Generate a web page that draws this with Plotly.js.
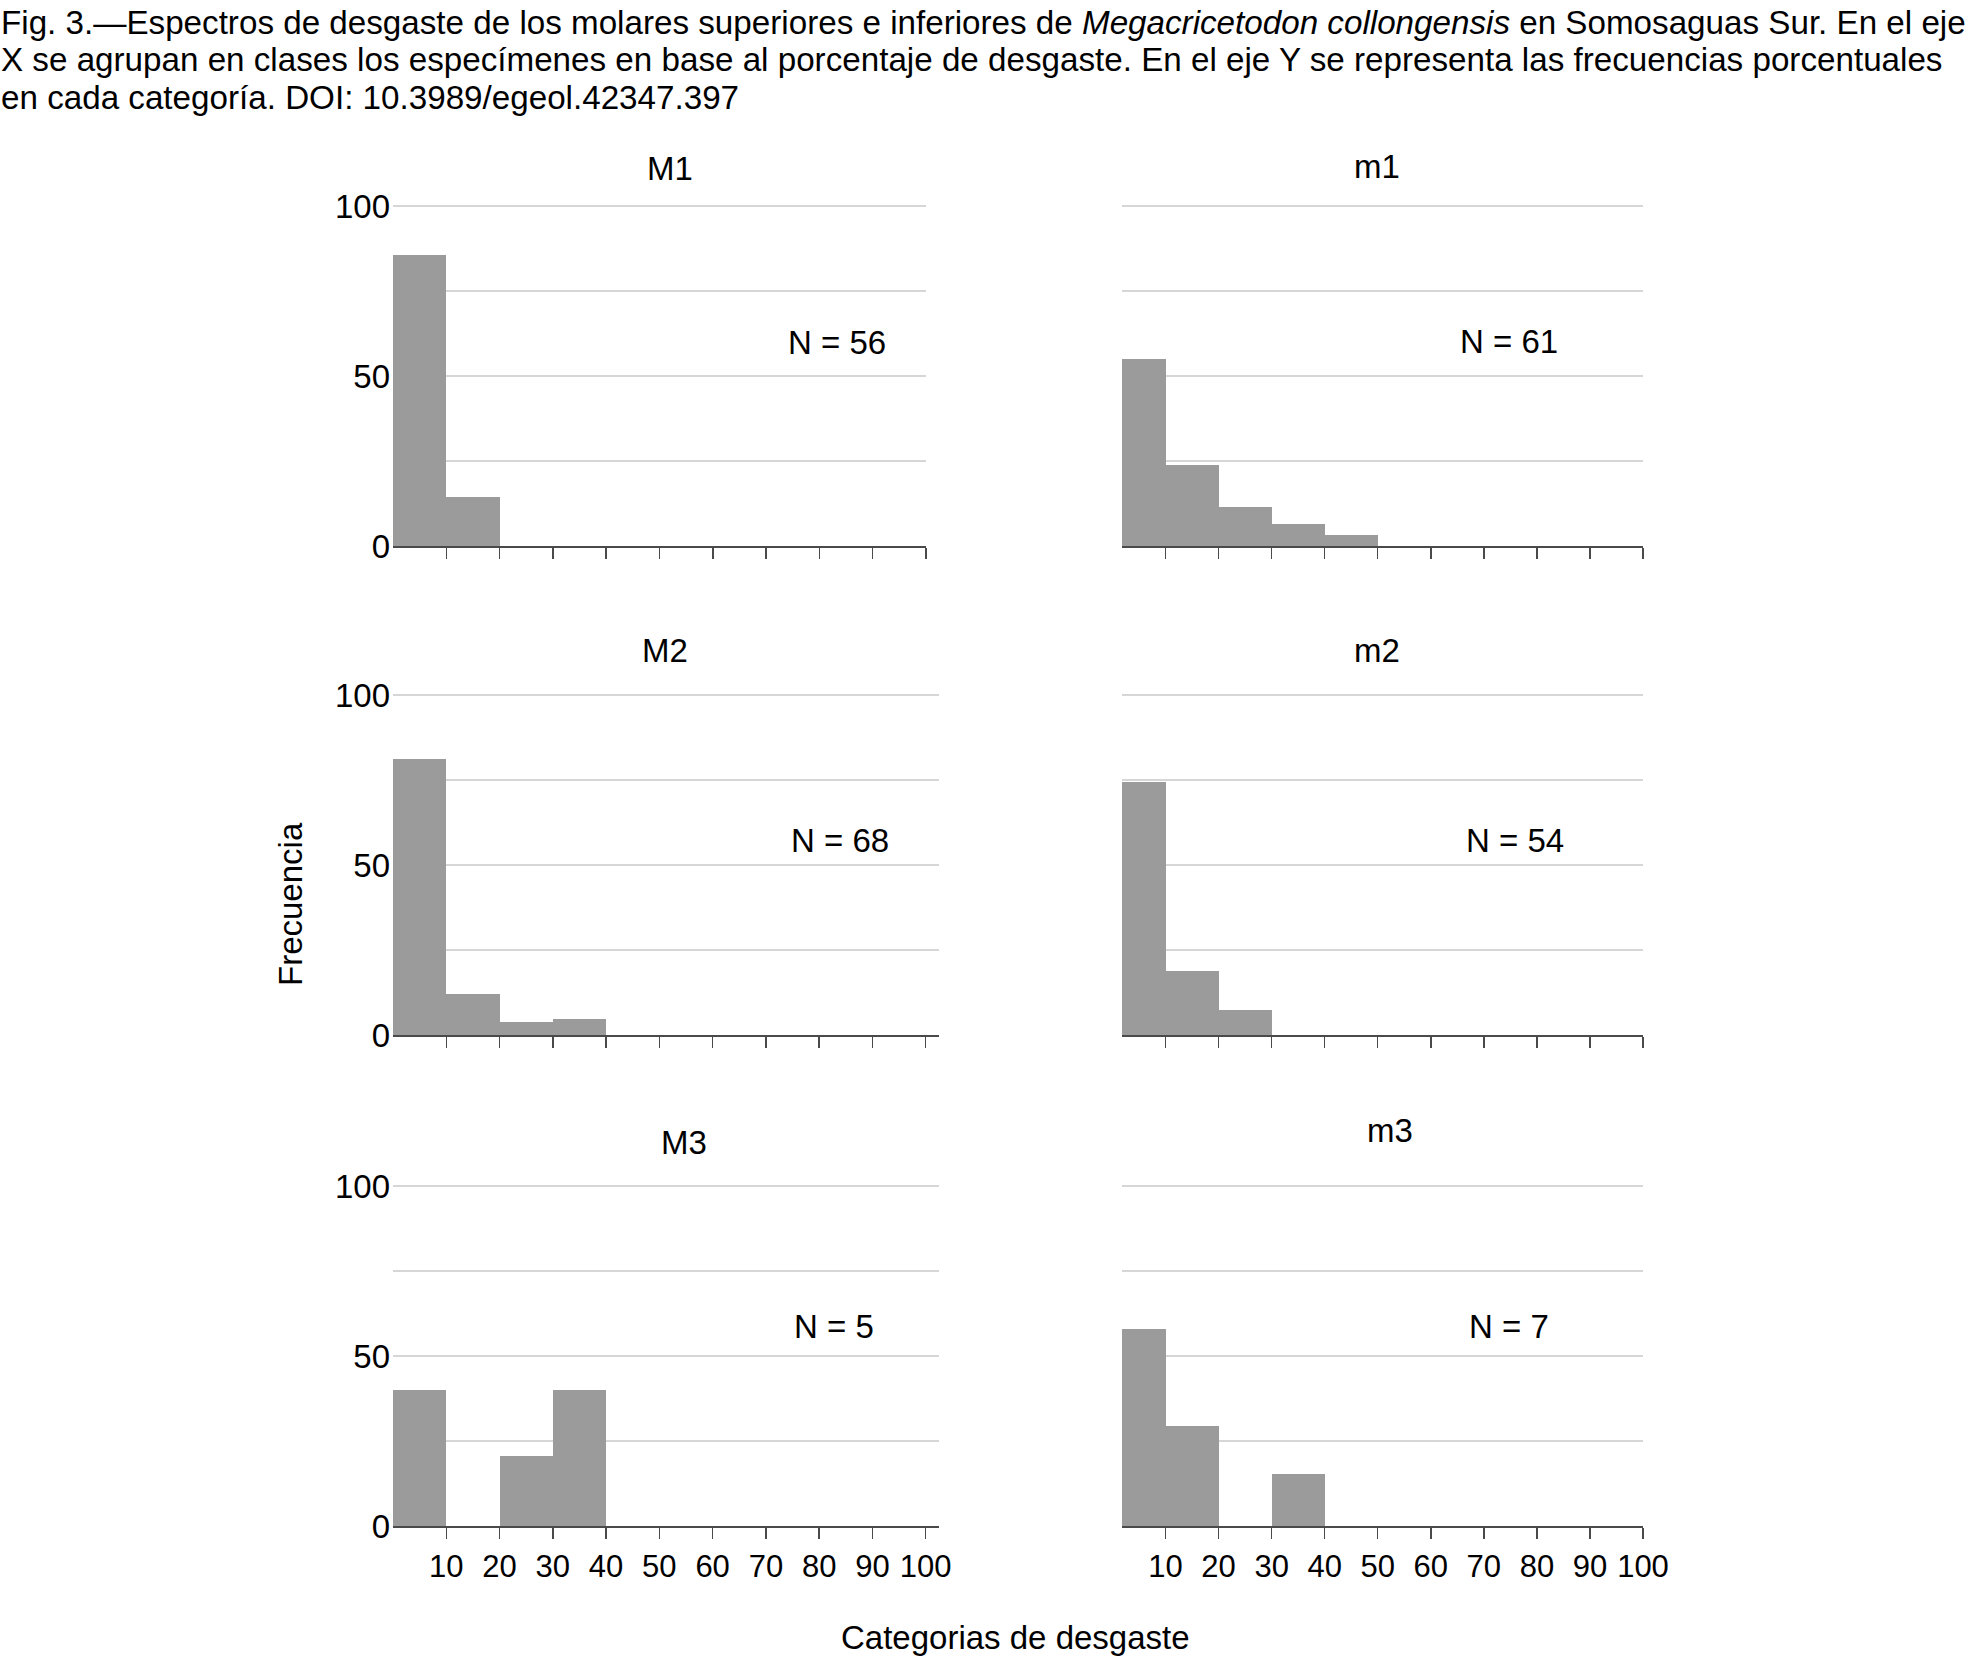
<!DOCTYPE html>
<html>
<head>
<meta charset="utf-8">
<script src="https://cdn.plot.ly/plotly-3.0.1.min.js"></script>
<style>
  html, body { margin: 0; padding: 0; background: #fff; }
</style>
</head>
<body>
<div id="chart" style="width:1967px;height:1657px;"></div>
<script>
/***********
  DATA
************/

// Wear classes (bin centres, 10 % wide each) and x tick labels
const binCenters = [5, 15, 25, 35, 45, 55, 65, 75, 85, 95];
const xTickVals = [10, 20, 30, 40, 50, 60, 70, 80, 90, 100];

// Panels: upper molars (M) on the left, lower molars (m) on the right
const panelNames = ['M1', 'm1', 'M2', 'm2', 'M3', 'm3'];
const sampleSizes = [56, 61, 68, 54, 5, 7];

// Percentage frequency per wear class
const freqM1 = [85.7, 14.3, 0, 0, 0, 0, 0, 0, 0, 0];
const freqm1 = [54.9, 23.9, 11.6, 6.6, 3.2, 0, 0, 0, 0, 0];
const freqM2 = [81.2, 12.0, 3.8, 4.7, 0, 0, 0, 0, 0, 0];
const freqm2 = [74.5, 18.7, 7.4, 0, 0, 0, 0, 0, 0, 0];
const freqM3 = [40, 0, 20.5, 40, 0, 0, 0, 0, 0, 0];
const freqm3 = [57.8, 29.3, 0, 15.4, 0, 0, 0, 0, 0, 0];

const panelFreqs = [freqM1, freqm1, freqM2, freqm2, freqM3, freqm3];

/***********
  LAYOUT HELPERS
************/

const W = 1967, H = 1657;
const fx = p => p / W;
const fy = p => 1 - p / H;

const FONT = '"Liberation Sans", Arial, Helvetica, sans-serif';
const BAR_COLOR = '#9b9b9b';
const AXIS_COLOR = '#4a4a4a';
const GRID_COLOR = '#d6d6d6';

// y range a hair above 100 so the top grid line is still drawn
const Y_TOP = 100.5;
const PX_PER_PCT = 3.4;

// Plot boxes in pixels: [left, right], bottom (zero line), x range
const frames = [
  { x: [393, 926],   bottom: 546,  range: [0, 100] },
  { x: [1122, 1643], bottom: 546,  range: [1.8, 100] },
  { x: [393, 939],   bottom: 1035, range: [0, 102.5] },
  { x: [1122, 1643], bottom: 1035, range: [1.8, 100] },
  { x: [393, 939],   bottom: 1526, range: [0, 102.5] },
  { x: [1122, 1643], bottom: 1526, range: [1.8, 100] }
];

// Label positions (pixel centres) for panel titles and N labels
const titlePos = [[670, 168], [1377, 167], [665, 650], [1377, 650], [684, 1142], [1390, 1130]];
const nPos = [[837, 342], [1509, 341], [840, 840], [1515, 840], [834, 1326], [1509, 1326]];

/***********
  BUILD
************/

function buildChart() {
  let traces = [];
  let layout = {
    width: W,
    height: H,
    margin: { l: 0, r: 0, t: 0, b: 0 },
    paper_bgcolor: '#fff',
    plot_bgcolor: '#fff',
    showlegend: false,
    bargap: 0,
    font: { family: FONT, size: 33, color: '#000' },
    annotations: []
  };

  panelNames.forEach((name, i) => {
    const n = i + 1;
    const xa = n === 1 ? 'x' : 'x' + n;
    const ya = n === 1 ? 'y' : 'y' + n;
    const f = frames[i];
    const bottomRow = i >= 4;
    const top = f.bottom - Y_TOP * PX_PER_PCT;

    traces.push({
      type: 'bar',
      x: binCenters,
      y: panelFreqs[i],
      width: 10,
      xaxis: xa,
      yaxis: ya,
      marker: { color: BAR_COLOR, line: { width: 0 } },
      hoverinfo: 'skip'
    });

    layout['xaxis' + (n === 1 ? '' : n)] = {
      domain: [fx(f.x[0]), fx(f.x[1])],
      anchor: ya,
      range: f.range,
      showgrid: false,
      zeroline: false,
      showline: true,
      linecolor: AXIS_COLOR,
      linewidth: 2,
      ticks: 'outside',
      ticklen: 11,
      tickwidth: 1.5,
      tickcolor: AXIS_COLOR,
      tickvals: xTickVals,
      ticktext: xTickVals.map(String),
      showticklabels: bottomRow,
      ticklabelstandoff: 1,
      tickfont: { family: FONT, size: 31, color: '#000' }
    };

    layout['yaxis' + (n === 1 ? '' : n)] = {
      domain: [fy(f.bottom), fy(top)],
      anchor: xa,
      range: [0, Y_TOP],
      showgrid: true,
      gridcolor: GRID_COLOR,
      gridwidth: 2,
      zeroline: false,
      showline: false,
      ticks: '',
      tickvals: [0, 25, 50, 75, 100],
      ticktext: i % 2 === 0 ? ['0', '', '50', '', '100'] : ['', '', '', '', ''],
      ticklabelstandoff: 2,
      tickfont: { family: FONT, size: 33, color: '#000' }
    };

    // Panel title
    layout.annotations.push({
      xref: 'paper', yref: 'paper',
      x: fx(titlePos[i][0]), y: fy(titlePos[i][1]),
      xanchor: 'center', yanchor: 'middle',
      text: name, showarrow: false,
      font: { family: FONT, size: 33, color: '#000' }
    });

    // Sample size label
    layout.annotations.push({
      xref: 'paper', yref: 'paper',
      x: fx(nPos[i][0]), y: fy(nPos[i][1]),
      xanchor: 'center', yanchor: 'middle',
      text: 'N = ' + sampleSizes[i], showarrow: false,
      font: { family: FONT, size: 33, color: '#000' }
    });
  });

  // Shared axis titles
  layout.annotations.push({
    xref: 'paper', yref: 'paper',
    x: fx(290), y: fy(904),
    xanchor: 'center', yanchor: 'middle',
    text: 'Frecuencia', textangle: -90, showarrow: false,
    font: { family: FONT, size: 33, color: '#000' }
  });
  layout.annotations.push({
    xref: 'paper', yref: 'paper',
    x: fx(1015), y: fy(1637),
    xanchor: 'center', yanchor: 'middle',
    text: 'Categorias de desgaste', showarrow: false,
    font: { family: FONT, size: 33, color: '#000' }
  });

  // Figure caption (three lines)
  const captionLines = [
    'Fig. 3.—Espectros de desgaste de los molares superiores e inferiores de <i>Megacricetodon collongensis</i> en Somosaguas Sur. En el eje',
    'X se agrupan en clases los especímenes en base al porcentaje de desgaste. En el eje Y se representa las frecuencias porcentuales',
    'en cada categoría. DOI: 10.3989/egeol.42347.397'
  ];
  const captionY = [23, 60, 98];
  captionLines.forEach((line, k) => {
    layout.annotations.push({
      xref: 'paper', yref: 'paper',
      x: 0, y: fy(captionY[k]),
      xanchor: 'left', yanchor: 'middle', align: 'left',
      text: line, showarrow: false, borderpad: 0,
      font: { family: FONT, size: 33.2, color: '#000' }
    });
  });

  Plotly.newPlot('chart', traces, layout, { displayModeBar: false, staticPlot: true });
}

buildChart();
</script>
</body>
</html>
